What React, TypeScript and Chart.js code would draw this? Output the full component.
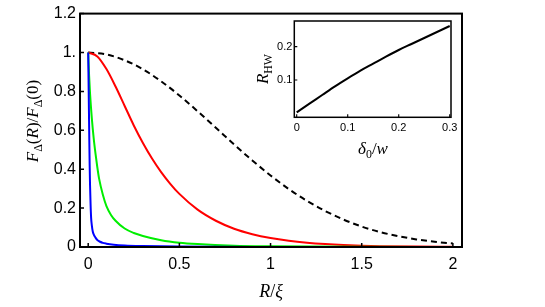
import React, { useEffect, useRef } from "react";
import { Chart, registerables } from "chart.js";

Chart.register(...registerables);

// ---- main chart data ----
const xTicks = [0, 0.5, 1, 1.5, 2];
const xTickLabels = ["0", "0.5", "1", "1.5", "2"];
const yTicks = [0, 0.2, 0.4, 0.6, 0.8, 1, 1.2];
const yTickLabels = ["0", "0.2", "0.4", "0.6", "0.8", "1.", "1.2"];

const dashedR = [0, 0.1, 0.2, 0.3, 0.4, 0.5, 0.6, 0.7, 0.8, 0.9, 1.0, 1.1, 1.2, 1.3, 1.4, 1.5, 1.6, 1.7, 1.8, 1.9, 2.0];
const dashedF = [1, 0.99, 0.96, 0.914, 0.852, 0.779, 0.698, 0.613, 0.527, 0.445, 0.368, 0.298, 0.237, 0.185, 0.141, 0.105, 0.077, 0.056, 0.039, 0.027, 0.018];

const redR = [0, 0.05, 0.1, 0.15, 0.2, 0.25, 0.3, 0.35, 0.4, 0.45, 0.5, 0.6, 0.7, 0.8, 0.9, 1.0, 1.1, 1.2, 1.3, 1.4, 1.5, 1.6, 1.8, 2.0];
const redF = [1, 0.98, 0.915, 0.825, 0.725, 0.625, 0.535, 0.455, 0.385, 0.325, 0.273, 0.192, 0.135, 0.094, 0.066, 0.046, 0.032, 0.022, 0.015, 0.01, 0.0067, 0.0045, 0.002, 0.001];

const greenR = [0, 0.005, 0.01, 0.02, 0.03, 0.04, 0.05, 0.06, 0.08, 0.1, 0.125, 0.15, 0.2, 0.25, 0.3, 0.4, 0.5, 0.6, 0.8, 1.0, 1.5, 2.0];
const greenF = [1, 0.88, 0.79, 0.66, 0.56, 0.48, 0.41, 0.35, 0.27, 0.21, 0.165, 0.135, 0.095, 0.072, 0.057, 0.035, 0.022, 0.015, 0.007, 0.004, 0.001, 0];

const blueR = [0, 0.002, 0.004, 0.006, 0.008, 0.01, 0.013, 0.016, 0.02, 0.025, 0.03, 0.04, 0.05, 0.065, 0.08, 0.1, 0.14, 0.2, 0.3, 0.5, 1.0, 2.0];
const blueF = [1, 0.85, 0.7, 0.55, 0.42, 0.32, 0.22, 0.15, 0.11, 0.08, 0.065, 0.048, 0.036, 0.027, 0.021, 0.017, 0.012, 0.008, 0.005, 0.002, 0.0005, 0];

// ---- inset data ----
const insetXTicks = [0, 0.1, 0.2, 0.3];
const insetXTickLabels = ["0", "0.1", "0.2", "0.3"];
const insetYTicks = [0.1, 0.2];
const insetYTickLabels = ["0.1", "0.2"];
const insetDelta = [0, 0.025, 0.05, 0.075, 0.1, 0.125, 0.15, 0.175, 0.2, 0.225, 0.25, 0.275, 0.3];
const insetRHW = [0.003, 0.029, 0.055, 0.081, 0.105, 0.128, 0.149, 0.17, 0.19, 0.208, 0.226, 0.244, 0.262];

const W = 545;
const H = 307;
const TICK_FONT = "Liberation Sans, Arial, sans-serif";
const LABEL_FONT = "Liberation Serif, Times New Roman, serif";

type Part = { t: string; italic?: boolean; sub?: boolean };

function drawRich(ctx: CanvasRenderingContext2D, parts: Part[], cx: number, cy: number, size: number, rotate: boolean) {
  ctx.save();
  ctx.translate(cx, cy);
  if (rotate) ctx.rotate(-Math.PI / 2);
  ctx.fillStyle = "#000";
  ctx.textBaseline = "alphabetic";
  ctx.textAlign = "left";
  const fontOf = (p: Part) => `${p.italic ? "italic " : ""}${p.sub ? size * 0.7 : size}px ${LABEL_FONT}`;
  let total = 0;
  const widths = parts.map((p) => {
    ctx.font = fontOf(p);
    const w = ctx.measureText(p.t).width;
    total += w;
    return w;
  });
  let x = -total / 2;
  const base = size * 0.35;
  parts.forEach((p, i) => {
    ctx.font = fontOf(p);
    ctx.fillText(p.t, x, p.sub ? base + size * 0.22 : base);
    x += widths[i];
  });
  ctx.restore();
}

function pts(xs: number[], ys: number[]) {
  return xs.map((x, i) => ({ x, y: ys[i] }));
}

const framePlugin = (lw: number, tickLen: number, xt: number[], yt: number[]) => ({
  id: "frame",
  afterDraw(chart: any) {
    const { ctx, chartArea: a, scales } = chart;
    ctx.save();
    ctx.strokeStyle = "#000";
    ctx.lineWidth = lw;
    ctx.strokeRect(a.left, a.top, a.right - a.left, a.bottom - a.top);
    ctx.lineWidth = lw * 0.75;
    ctx.beginPath();
    xt.forEach((v) => {
      const px = scales.x.getPixelForValue(v);
      ctx.moveTo(px, a.bottom);
      ctx.lineTo(px, a.bottom - tickLen);
    });
    yt.forEach((v) => {
      const py = scales.y.getPixelForValue(v);
      ctx.moveTo(a.left, py);
      ctx.lineTo(a.left + tickLen, py);
    });
    ctx.stroke();
    ctx.restore();
  },
});

export default function App() {
  const mainRef = useRef<HTMLCanvasElement>(null);
  const insetRef = useRef<HTMLCanvasElement>(null);

  useEffect(() => {
    const main = new Chart(mainRef.current!, {
      type: "line",
      data: {
        datasets: [
          { data: pts(blueR, blueF), borderColor: "#0000ff", borderWidth: 2, pointRadius: 0, cubicInterpolationMode: "monotone" },
          { data: pts(greenR, greenF), borderColor: "#00ee00", borderWidth: 2, pointRadius: 0, cubicInterpolationMode: "monotone" },
          { data: pts(redR, redF), borderColor: "#ff0000", borderWidth: 2, pointRadius: 0, cubicInterpolationMode: "monotone" },
          { data: pts(dashedR, dashedF), borderColor: "#000000", borderWidth: 2, borderDash: [6, 4], pointRadius: 0, cubicInterpolationMode: "monotone" },
        ],
      },
      options: {
        animation: false,
        responsive: false,
        events: [],
        layout: { padding: { left: 0, top: 12, right: W - 462, bottom: 0 } },
        plugins: { legend: { display: false }, tooltip: { enabled: false } },
        scales: {
          x: {
            type: "linear",
            min: -0.045,
            max: 2.05,
            afterBuildTicks: (s: any) => { s.ticks = xTicks.map((v) => ({ value: v })); },
            afterFit: (s: any) => { s.height = H - 247; },
            grid: { display: false, drawTicks: false },
            border: { display: false },
            ticks: {
              padding: 8,
              color: "#000",
              font: { family: TICK_FONT, size: 16 },
              callback: (v: any) => xTickLabels[xTicks.indexOf(Number(v))] ?? "",
              maxRotation: 0,
              autoSkip: false,
            },
          },
          y: {
            type: "linear",
            min: 0,
            max: 1.2,
            afterBuildTicks: (s: any) => { s.ticks = yTicks.map((v) => ({ value: v })); },
            afterFit: (s: any) => { s.width = 80; },
            grid: { display: false, drawTicks: false },
            border: { display: false },
            ticks: {
              padding: 4,
              color: "#000",
              font: { family: TICK_FONT, size: 16 },
              callback: (v: any) => yTickLabels[yTicks.indexOf(Number(v))] ?? "",
              autoSkip: false,
            },
          },
        },
      },
      plugins: [
        framePlugin(2, 4, xTicks, yTicks),
        {
          id: "labels",
          afterDraw(chart: any) {
            const ctx = chart.ctx;
            drawRich(ctx, [
              { t: "F", italic: true }, { t: "Δ", sub: true }, { t: "(" }, { t: "R", italic: true }, { t: ")/" },
              { t: "F", italic: true }, { t: "Δ", sub: true }, { t: "(0)" },
            ], 32, 121, 17, true);
            drawRich(ctx, [{ t: "R", italic: true }, { t: "/" }, { t: "ξ", italic: true }], 271, 291, 18, false);
          },
        },
      ],
    } as any);

    const inset = new Chart(insetRef.current!, {
      type: "line",
      data: {
        datasets: [
          { data: pts(insetDelta, insetRHW), borderColor: "#000", borderWidth: 2, pointRadius: 0, cubicInterpolationMode: "monotone" },
        ],
      },
      options: {
        animation: false,
        responsive: false,
        events: [],
        layout: { padding: { left: 0, top: 21, right: W - 451, bottom: 0 } },
        plugins: { legend: { display: false }, tooltip: { enabled: false } },
        scales: {
          x: {
            type: "linear",
            min: -0.0047,
            max: 0.3025,
            afterBuildTicks: (s: any) => { s.ticks = insetXTicks.map((v) => ({ value: v })); },
            afterFit: (s: any) => { s.height = H - 117.3; },
            grid: { display: false, drawTicks: false },
            border: { display: false },
            ticks: {
              padding: 4,
              color: "#000",
              font: { family: TICK_FONT, size: 11 },
              callback: (v: any) => insetXTickLabels[insetXTicks.indexOf(Number(v))] ?? "",
              maxRotation: 0,
              autoSkip: false,
            },
          },
          y: {
            type: "linear",
            min: -0.012,
            max: 0.277,
            afterBuildTicks: (s: any) => { s.ticks = insetYTicks.map((v) => ({ value: v })); },
            afterFit: (s: any) => { s.width = 294.3; },
            grid: { display: false, drawTicks: false },
            border: { display: false },
            ticks: {
              padding: 2,
              color: "#000",
              font: { family: TICK_FONT, size: 11 },
              callback: (v: any) => insetYTickLabels[insetYTicks.indexOf(Number(v))] ?? "",
              autoSkip: false,
            },
          },
        },
      },
      plugins: [
        framePlugin(1.5, 3, insetXTicks, insetYTicks),
        {
          id: "insetLabels",
          afterDraw(chart: any) {
            const ctx = chart.ctx;
            drawRich(ctx, [{ t: "R", italic: true }, { t: "HW", sub: true }], 262, 69, 17, true);
            drawRich(ctx, [{ t: "δ", italic: true }, { t: "0", sub: true }, { t: "/" }, { t: "w", italic: true }], 373, 148, 17, false);
          },
        },
      ],
    } as any);

    return () => {
      main.destroy();
      inset.destroy();
    };
  }, []);

  return (
    <div style={{ position: "fixed", left: 0, top: 0, width: W, height: H, background: "#fff" }}>
      <canvas ref={mainRef} width={W} height={H} style={{ position: "absolute", left: 0, top: 0, width: W, height: H }} />
      <canvas ref={insetRef} width={W} height={H} style={{ position: "absolute", left: 0, top: 0, width: W, height: H }} />
    </div>
  );
}
